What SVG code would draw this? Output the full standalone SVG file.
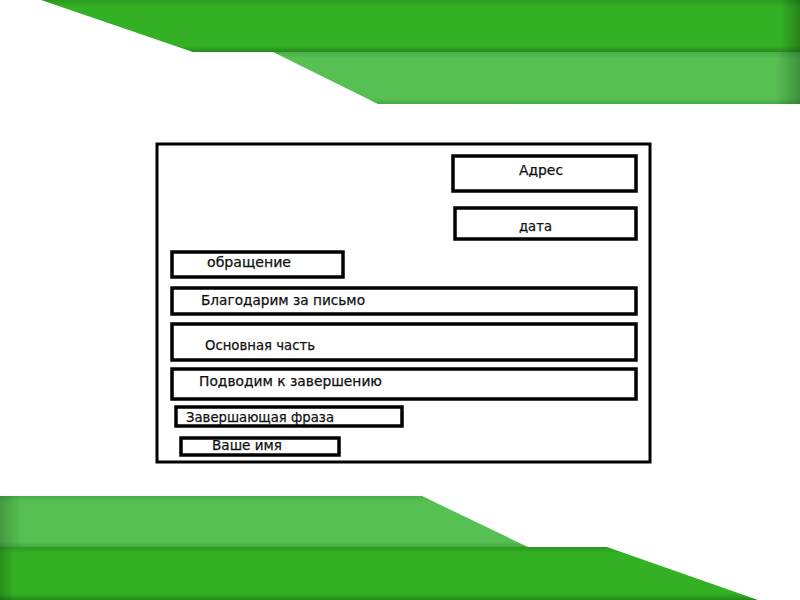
<svg xmlns="http://www.w3.org/2000/svg" width="800" height="600" viewBox="0 0 800 600">
<defs>
<linearGradient id="gDark" x1="0" y1="0" x2="0" y2="1">
<stop offset="0" stop-color="#2a9a1f"/>
<stop offset="0.12" stop-color="#33b024"/>
<stop offset="0.88" stop-color="#33b024"/>
<stop offset="1" stop-color="#258a1b"/>
</linearGradient>
<linearGradient id="gLight" x1="0" y1="0" x2="0" y2="1">
<stop offset="0" stop-color="#4aae4a"/>
<stop offset="0.12" stop-color="#56c152"/>
<stop offset="0.88" stop-color="#56c152"/>
<stop offset="1" stop-color="#48a848"/>
</linearGradient>
<linearGradient id="gEdgeR" x1="0" y1="0" x2="1" y2="0">
<stop offset="0" stop-color="#000" stop-opacity="0"/>
<stop offset="1" stop-color="#000" stop-opacity="0.25"/>
</linearGradient>
<linearGradient id="gEdgeL" x1="1" y1="0" x2="0" y2="0">
<stop offset="0" stop-color="#000" stop-opacity="0"/>
<stop offset="1" stop-color="#000" stop-opacity="0.2"/>
</linearGradient>
</defs>
<style>
.box{fill:#fff;stroke:#000;stroke-width:3.5}
.frame{fill:#fff;stroke:#000;stroke-width:3}
.t{font-family:"DejaVu Sans",sans-serif;font-size:13.8px;fill:#111;stroke:#111;stroke-width:0.25}
</style>
<rect width="800" height="600" fill="#fff"/>
<g id="decor-top">
<polygon points="41,0 800,0 800,52 193,52" fill="url(#gDark)"/>
<rect x="780" y="0" width="20" height="52" fill="url(#gEdgeR)"/>
<polygon points="273,52 800,52 800,104 378,104" fill="url(#gLight)"/>
<rect x="775" y="52" width="25" height="52" fill="url(#gEdgeR)"/>
</g>
<g id="decor-bottom">
<polygon points="0,496 422,496 528,547 0,547" fill="url(#gLight)"/>
<rect x="0" y="496" width="22" height="51" fill="url(#gEdgeL)"/>
<polygon points="0,547 607,547 758,600 0,600" fill="url(#gDark)"/>
<rect x="0" y="547" width="14" height="53" fill="url(#gEdgeL)"/>
</g>
<g id="letter">
<rect class="frame" x="157" y="144" width="493" height="318"/>
</g>
<g id="address"><rect class="box" x="453" y="156" width="183" height="35"/><text class="t" x="519" y="175" textLength="44" lengthAdjust="spacingAndGlyphs">Адрес</text></g>
<g id="date"><rect class="box" x="455" y="208" width="181" height="31"/><text class="t" x="519" y="231" textLength="33" lengthAdjust="spacingAndGlyphs">дата</text></g>
<g id="greeting"><rect class="box" x="172" y="252" width="171" height="25"/><text class="t" x="207" y="267" textLength="84" lengthAdjust="spacingAndGlyphs">обращение</text></g>
<g id="thanks"><rect class="box" x="172" y="288" width="464" height="26"/><text class="t" x="201" y="305" textLength="164" lengthAdjust="spacingAndGlyphs">Благодарим за письмо</text></g>
<g id="main"><rect class="box" x="172" y="324" width="464" height="36"/><text class="t" x="205" y="350" textLength="110" lengthAdjust="spacingAndGlyphs">Основная часть</text></g>
<g id="closing"><rect class="box" x="172" y="369" width="464" height="30"/><text class="t" x="199" y="386" textLength="183" lengthAdjust="spacingAndGlyphs">Подводим к завершению</text></g>
<g id="final-phrase"><rect class="box" x="176" y="407" width="226" height="19"/><text class="t" x="186" y="422" textLength="148" lengthAdjust="spacingAndGlyphs">Завершающая фраза</text></g>
<g id="name"><rect class="box" x="181" y="438" width="158" height="17"/><text class="t" x="212" y="450" textLength="70" lengthAdjust="spacingAndGlyphs">Ваше имя</text></g>
<g id="connectors"/>
</svg>
